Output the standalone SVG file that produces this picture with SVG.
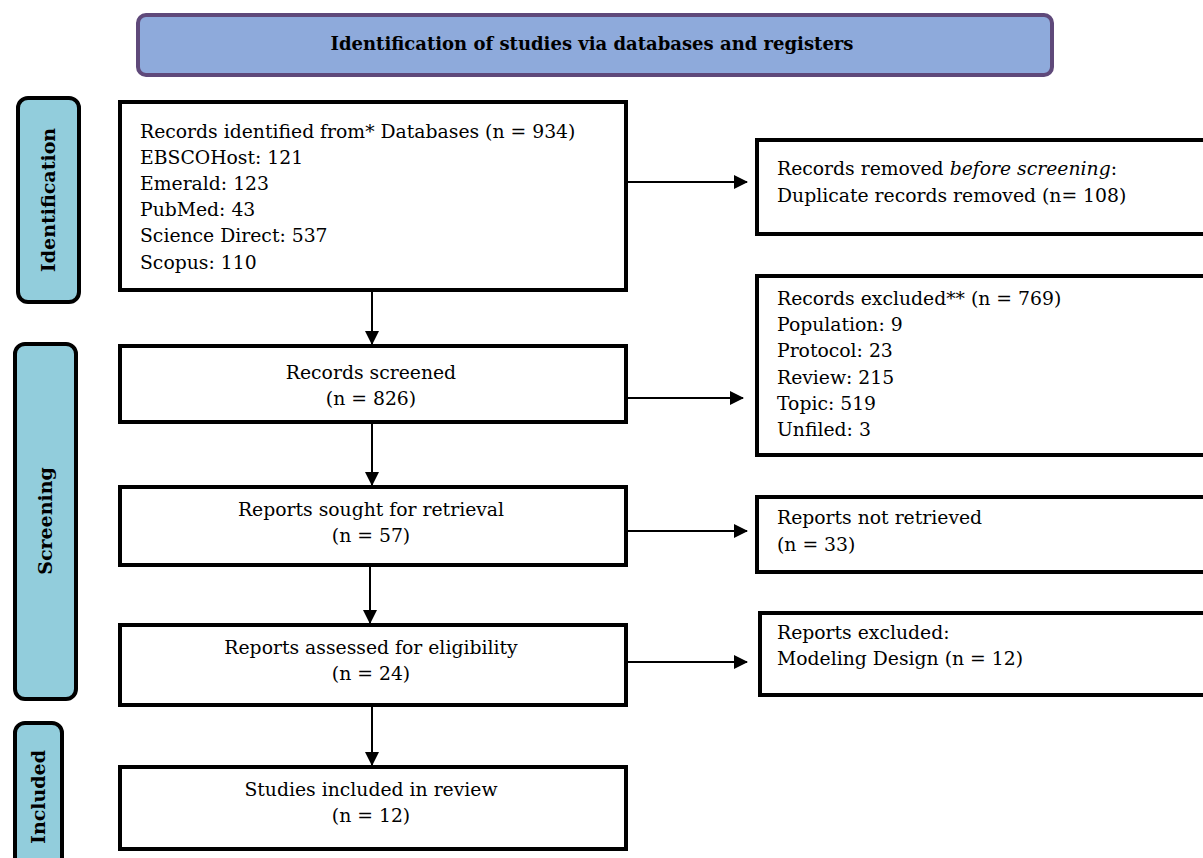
<svg xmlns="http://www.w3.org/2000/svg" width="1203" height="858" viewBox="0 0 1203 858">
<defs>
<marker id="ah" markerWidth="14" markerHeight="14" refX="13" refY="7" orient="auto" markerUnits="userSpaceOnUse">
<path d="M0,0 L14,7 L0,14 Z" fill="#000"/>
</marker>
<style>
.box{fill:#fff;stroke:#000;stroke-width:4}
.side{fill:#92cddc;stroke:#000;stroke-width:4}
.hdr{fill:#8eaadb;stroke:#5f497a;stroke-width:4}
.t{font-family:"DejaVu Serif","Liberation Serif",serif;font-size:18.8px;fill:#000}
.c{text-anchor:middle}
.b{font-weight:bold}
.edge{stroke:#000;stroke-width:2;fill:none;marker-end:url(#ah)}
</style>
</defs>
<rect width="1203" height="858" fill="#fff"/>
<g id="header">
<rect class="hdr" x="138" y="15" width="914" height="60" rx="8"/>
<text class="t b c" x="592" y="50" style="font-size:18px">Identification of studies via databases and registers</text>
</g>
<g id="lbl-identification">
<rect class="side" x="18" y="98" width="61" height="204" rx="10"/>
<text class="t b c" transform="translate(55,200) rotate(-90)" style="font-size:19px">Identification</text>
</g>
<g id="lbl-screening">
<rect class="side" x="15" y="344" width="61" height="355" rx="10"/>
<text class="t b c" transform="translate(52,521) rotate(-90)" style="font-size:19px">Screening</text>
</g>
<g id="lbl-included">
<rect class="side" x="15" y="723" width="47" height="145" rx="10"/>
<text class="t b c" transform="translate(45,797) rotate(-90)" style="font-size:19px">Included</text>
</g>
<g id="n-identified">
<rect class="box" x="120" y="102" width="506" height="188"/>
<text class="t" x="140" y="138">Records identified from* Databases (n = 934)</text>
<text class="t" x="140" y="164">EBSCOHost: 121</text>
<text class="t" x="140" y="190">Emerald: 123</text>
<text class="t" x="140" y="216">PubMed: 43</text>
<text class="t" x="140" y="242">Science Direct: 537</text>
<text class="t" x="140" y="269">Scopus: 110</text>
</g>
<g id="n-removed">
<rect class="box" x="757" y="140" width="460" height="94"/>
<text class="t" x="777" y="175">Records removed <tspan font-style="italic">before screening</tspan>:</text>
<text class="t" x="777" y="202">Duplicate records removed (n= 108)</text>
</g>
<g id="n-screened">
<rect class="box" x="120" y="346" width="506" height="76"/>
<text class="t c" x="371" y="379">Records screened</text>
<text class="t c" x="371" y="405">(n = 826)</text>
</g>
<g id="n-excluded">
<rect class="box" x="757" y="276" width="460" height="179"/>
<text class="t" x="777" y="305">Records excluded** (n = 769)</text>
<text class="t" x="777" y="331">Population: 9</text>
<text class="t" x="777" y="357">Protocol: 23</text>
<text class="t" x="777" y="384">Review: 215</text>
<text class="t" x="777" y="410">Topic: 519</text>
<text class="t" x="777" y="436">Unfiled: 3</text>
</g>
<g id="n-sought">
<rect class="box" x="120" y="487" width="506" height="78"/>
<text class="t c" x="371" y="516">Reports sought for retrieval</text>
<text class="t c" x="371" y="542">(n = 57)</text>
</g>
<g id="n-notretrieved">
<rect class="box" x="757" y="497" width="460" height="75"/>
<text class="t" x="777" y="524">Reports not retrieved</text>
<text class="t" x="777" y="551">(n = 33)</text>
</g>
<g id="n-assessed">
<rect class="box" x="120" y="625" width="506" height="80"/>
<text class="t c" x="371" y="654">Reports assessed for eligibility</text>
<text class="t c" x="371" y="680">(n = 24)</text>
</g>
<g id="n-reportsexcluded">
<rect class="box" x="760" y="613" width="460" height="82"/>
<text class="t" x="777" y="639">Reports excluded:</text>
<text class="t" x="777" y="665">Modeling Design (n = 12)</text>
</g>
<g id="n-included">
<rect class="box" x="120" y="767" width="506" height="82"/>
<text class="t c" x="371" y="796">Studies included in review</text>
<text class="t c" x="371" y="822">(n = 12)</text>
</g>
<g id="connectors">
<line class="edge" x1="628" y1="182" x2="747" y2="182"/>
<line class="edge" x1="372" y1="292" x2="372" y2="344"/>
<line class="edge" x1="624" y1="398" x2="743" y2="398"/>
<line class="edge" x1="372" y1="424" x2="372" y2="485"/>
<line class="edge" x1="628" y1="531" x2="747" y2="531"/>
<line class="edge" x1="370" y1="567" x2="370" y2="623"/>
<line class="edge" x1="628" y1="662" x2="747" y2="662"/>
<line class="edge" x1="372" y1="707" x2="372" y2="765"/>
</g>
</svg>
